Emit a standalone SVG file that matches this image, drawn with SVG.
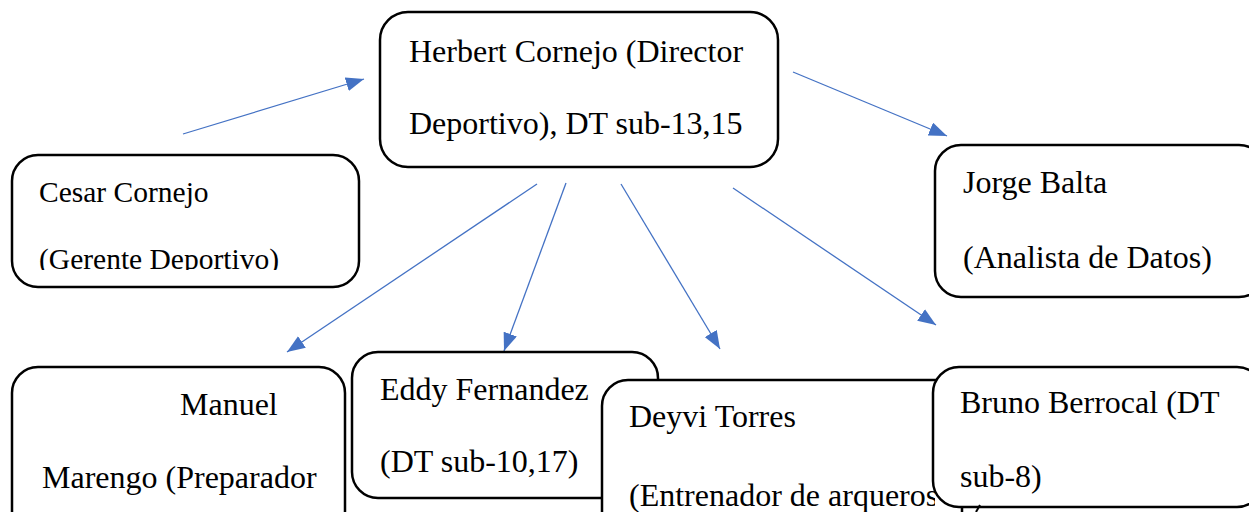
<svg xmlns="http://www.w3.org/2000/svg" width="1249" height="512" viewBox="0 0 1249 512">
  <style>
    .box { fill: #ffffff; stroke: #000000; stroke-width: 2.5; }
    .label { font-family: "Liberation Serif", "Times New Roman", serif; font-size: 32px; fill: #000000; }
    .small { font-size: 29.5px; }
    .link { stroke: #4472C4; stroke-width: 1.3; fill: none; marker-end: url(#arrow); }
  </style>
  <defs>
    <marker id="arrow" viewBox="0 0 18 14" refX="18" refY="7" markerWidth="18" markerHeight="14" markerUnits="userSpaceOnUse" orient="auto">
      <path d="M0,0 L18,7 L0,14 z" fill="#4472C4"/>
    </marker>
    <clipPath id="clip-cesar">
      <rect x="12" y="155" width="350" height="115"/>
    </clipPath>
    <clipPath id="clip-deyvi">
      <rect x="602" y="380" width="333" height="140"/>
    </clipPath>
  </defs>

  <!-- connectors -->
  <g id="connectors">
    <line class="link" x1="183" y1="134" x2="364" y2="79"/>
    <line class="link" x1="793" y1="72" x2="947" y2="136"/>
    <line class="link" x1="537" y1="184" x2="287" y2="352"/>
    <line class="link" x1="566" y1="183" x2="504" y2="351"/>
    <line class="link" x1="621" y1="184" x2="720" y2="349"/>
    <line class="link" x1="733" y1="188" x2="936" y2="325"/>
  </g>

  <g id="node-cesar">
    <rect class="box" x="12" y="155" width="347" height="132" rx="26"/>
    <g clip-path="url(#clip-cesar)">
      <text class="label small" x="39" y="202">Cesar Cornejo</text>
      <text class="label small" x="39" y="269">(Gerente Deportivo)</text>
    </g>
  </g>

  <g id="node-jorge">
    <rect class="box" x="935" y="145" width="330" height="152" rx="26"/>
    <text class="label" x="963" y="193">Jorge Balta</text>
    <text class="label" x="963" y="268">(Analista de Datos)</text>
  </g>

  <g id="node-herbert">
    <rect class="box" x="380" y="12" width="398" height="155" rx="28"/>
    <text class="label" x="409" y="62">Herbert Cornejo (Director</text>
    <text class="label" x="409" y="134">Deportivo), DT sub-13,15</text>
  </g>

  <g id="node-manuel">
    <rect class="box" x="12" y="367" width="333" height="170" rx="26"/>
    <text class="label" x="180" y="415">Manuel</text>
    <text class="label" x="42" y="488">Marengo (Preparador</text>
  </g>

  <g id="node-eddy">
    <rect class="box" x="352" y="352" width="306" height="146" rx="26"/>
    <text class="label" x="380" y="400">Eddy Fernandez</text>
    <text class="label" x="380" y="472">(DT sub-10,17)</text>
  </g>

  <g id="node-deyvi">
    <rect class="box" x="602" y="380" width="360" height="160" rx="26"/>
    <g clip-path="url(#clip-deyvi)">
      <text class="label" x="629" y="427">Deyvi Torres</text>
      <text class="label" x="629" y="506">(Entrenador de arqueros)</text>
    </g>
  </g>

  <g id="node-bruno">
    <rect class="box" x="933" y="367" width="330" height="140" rx="26"/>
    <text class="label" x="960" y="413">Bruno Berrocal (DT</text>
    <text class="label" x="960" y="487">sub-8)</text>
  </g>

  <!-- edge of a shape continuing below the frame -->
  <path d="M976,512 L980,505" stroke="#000000" stroke-width="2" fill="none"/>
</svg>
